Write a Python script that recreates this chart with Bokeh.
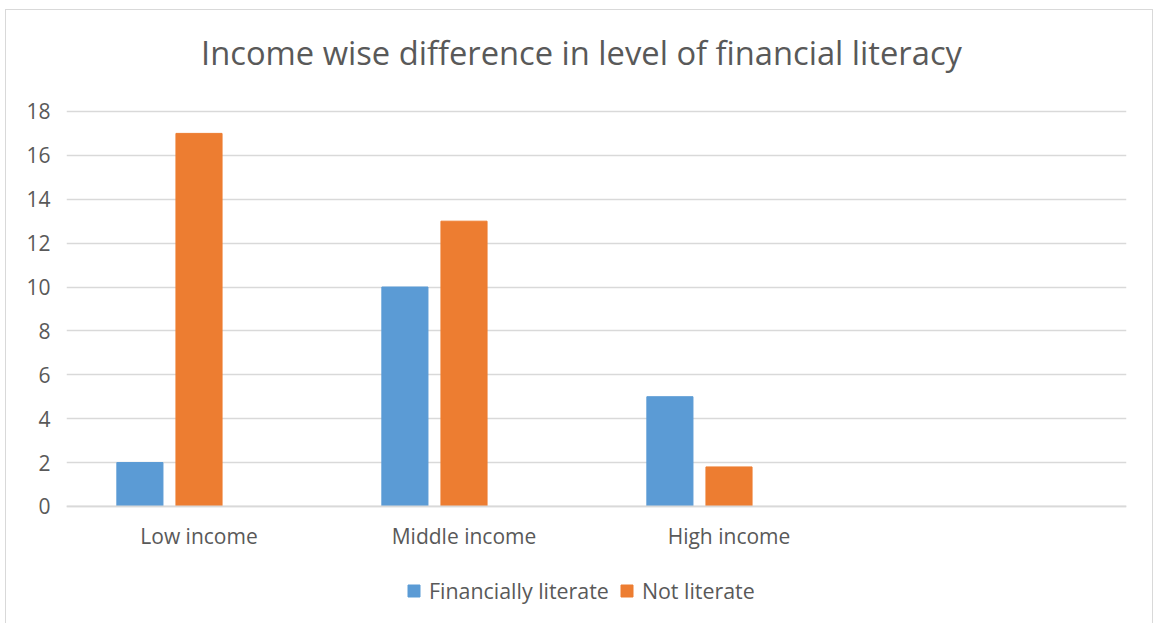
from bokeh.plotting import figure
from bokeh.models import (ColumnDataSource, FactorRange, Range1d, Legend, LegendItem,
                          FixedTicker, Span, Label)
from bokeh.transform import dodge
from bokeh.core.properties import value
from bokeh.embed import file_html
from bokeh.resources import INLINE

# ---- data ----
categories = ["Low income", "Middle income", "High income"]
empty_slot = [" "]
series_names = ["Financially literate", "Not literate"]
financially_literate = [2, 10, 5]
not_literate = [17, 13, 1.8]
y_ticks = [0, 2, 4, 6, 8, 10, 12, 14, 16, 18]
title_text = "Income wise difference in level of financial literacy"

BLUE = "#5B9BD5"
ORANGE = "#ED7D31"
TEXT = "#595959"
GRID = "#D9D9D9"
FONT = "Open Sans"

src = ColumnDataSource(dict(cat=categories, lit=financially_literate, notlit=not_literate,
                            base=[0] * len(categories)))

p = figure(
    width=1148, height=614,
    x_range=FactorRange(*(categories + empty_slot)),
    y_range=Range1d(-5.29, 22.51),
    x_axis_location=None,
    output_backend="svg", toolbar_location=None,
    min_border_left=60, min_border_right=28, min_border_top=2, min_border_bottom=2,
)
p.styles = {"border-top": "1px solid #D9D9D9", "border-left": "1px solid #D9D9D9",
            "border-right": "1px solid #D9D9D9", "margin-left": "5px", "margin-top": "9px"}
p.outline_line_color = None

p.add_layout(Label(x=515, y=570, x_units="screen", y_units="screen", text=title_text,
                   text_align="center", text_baseline="middle", text_font=FONT,
                   text_font_size="32.7px", text_color=TEXT))

r1 = p.vbar(x=dodge("cat", -0.223, range=p.x_range), top="lit", width=0.174,
            source=src, fill_color=BLUE, line_color=BLUE)
r2 = p.vbar(x=dodge("cat", 0.0, range=p.x_range), top="notlit", width=0.174,
            source=src, fill_color=ORANGE, line_color=ORANGE)

# category axis line and labels
p.add_layout(Span(location=0, dimension="width", line_color=GRID, line_width=1.6))
p.text(x="cat", y="base", text="cat", source=src, y_offset=30,
       text_align="center", text_baseline="middle",
       text_font=value(FONT), text_font_size="21px", text_color=TEXT)

p.xgrid.grid_line_color = None
p.ygrid.ticker = FixedTicker(ticks=y_ticks)
p.ygrid.grid_line_color = GRID
p.ygrid.grid_line_width = 1.3

p.yaxis.ticker = FixedTicker(ticks=y_ticks)
p.yaxis.axis_line_color = None
p.yaxis.major_tick_line_color = None
p.yaxis.minor_tick_line_color = None
p.yaxis.major_label_text_font = FONT
p.yaxis.major_label_text_font_size = "21px"
p.yaxis.major_label_text_color = TEXT
p.yaxis.major_label_standoff = 10

legend = Legend(items=[LegendItem(label=series_names[0], renderers=[r1]),
                       LegendItem(label=series_names[1], renderers=[r2])],
                orientation="horizontal", location=(340, 17),
                label_text_font=FONT, label_text_font_size="21.4px", label_text_color=TEXT,
                glyph_width=15, glyph_height=15, label_standoff=8, spacing=10,
                border_line_color=None, background_fill_alpha=0, padding=0, margin=0)
p.add_layout(legend, "center")

open("out.html", "w").write(file_html(p, INLINE))
